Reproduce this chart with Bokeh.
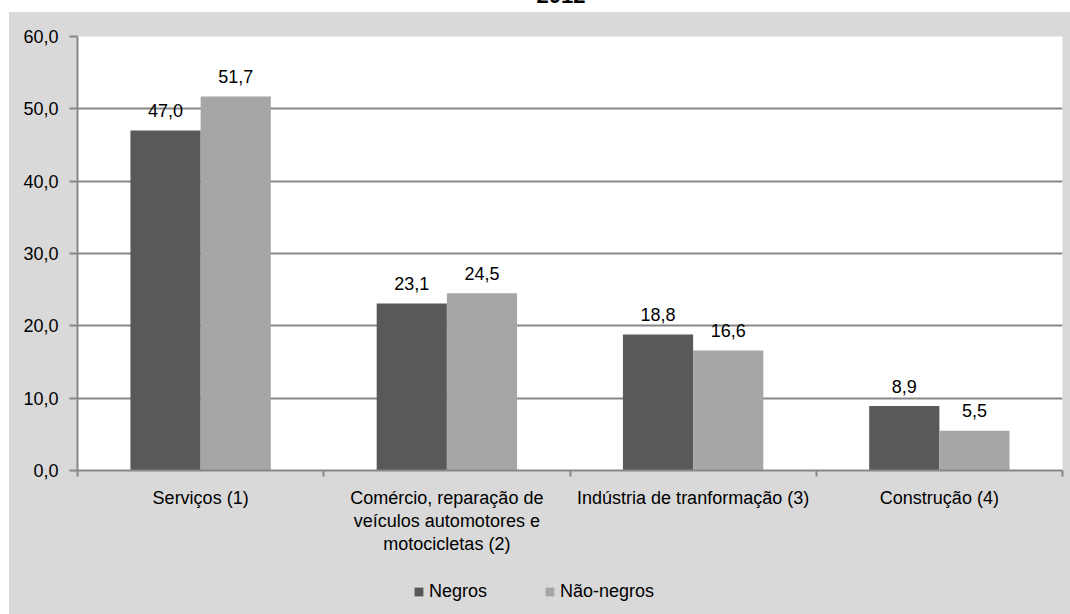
from bokeh.plotting import figure
from bokeh.layouts import column, row
from bokeh.models import (Range1d, FixedTicker, CustomJSTickFormatter, Legend,
                          LegendItem, ColumnDataSource, Div, Spacer)
from bokeh.transform import dodge
from bokeh.embed import file_html
from bokeh.resources import INLINE
from bokeh.core.properties import value

# ---- data ----
title_text = "2012"
categories = [
    "Serviços (1)",
    "Comércio, reparação de\nveículos automotores e\nmotocicletas (2)",
    "Indústria de tranformação (3)",
    "Construção (4)",
]
series_names = ["Negros", "Não-negros"]
negros = [47.0, 23.1, 18.8, 8.9]
nao_negros = [51.7, 24.5, 16.6, 5.5]
y_ticks = [0, 10, 20, 30, 40, 50, 60]

# ---- style ----
FONT = "Liberation Sans"
FS = "18px"
C_NEG = "#595959"
C_NAO = "#a6a6a6"
C_LINE = "#878787"
C_PANEL = "#d9d9d9"

n = len(categories)
fmt = lambda v: f"{v:.1f}".replace(".", ",")
src = ColumnDataSource(dict(
    x=[i + 0.5 for i in range(n)],
    negros=negros,
    nao=nao_negros,
    lab_neg=[fmt(v) for v in negros],
    lab_nao=[fmt(v) for v in nao_negros],
))

p = figure(width=1061, height=558, output_backend="svg", toolbar_location=None,
           x_range=Range1d(0, n), y_range=Range1d(y_ticks[0], y_ticks[-1]),
           min_border_left=68, min_border_right=8, min_border_top=24,
           min_border_bottom=100)
p.border_fill_color = C_PANEL
p.background_fill_color = "white"
p.outline_line_color = None
p.styles = {"background-color": C_PANEL}

W = 0.285
p.vbar(x=dodge("x", -W / 2, range=p.x_range), top="negros", width=W,
       source=src, fill_color=C_NEG, line_color=None)
p.vbar(x=dodge("x", W / 2, range=p.x_range), top="nao", width=W,
       source=src, fill_color=C_NAO, line_color=None)

for col, top, off in (("lab_neg", "negros", -W / 2), ("lab_nao", "nao", W / 2)):
    p.text(x=dodge("x", off, range=p.x_range), y=top, text=col, source=src,
           text_align="center", text_baseline="middle", y_offset=-20,
           text_font=value(FONT), text_font_size=FS, text_color="black")

# grid
p.xgrid.visible = False
p.ygrid.ticker = FixedTicker(ticks=y_ticks)
p.ygrid.grid_line_color = C_LINE
p.ygrid.grid_line_width = 2

# y axis
ya = p.yaxis[0]
ya.ticker = FixedTicker(ticks=y_ticks)
ya.formatter = CustomJSTickFormatter(code="return tick.toFixed(1).replace('.', ',');")
ya.axis_line_color = C_LINE
ya.axis_line_width = 2
ya.major_tick_line_color = C_LINE
ya.major_tick_line_width = 2
ya.major_tick_out = 8
ya.major_tick_in = 0
ya.minor_tick_line_color = None
ya.major_label_standoff = 11
ya.major_label_text_font = FONT
ya.major_label_text_font_size = FS
ya.major_label_text_color = "black"

# x axis
xa = p.xaxis[0]
xa.ticker = FixedTicker(ticks=[i + 0.5 for i in range(n)],
                        minor_ticks=list(range(n + 1)))
xa.formatter = CustomJSTickFormatter(args=dict(labels=categories),
                                     code="return labels[Math.floor(tick)];")
xa.axis_line_color = C_LINE
xa.axis_line_width = 2
xa.major_tick_line_color = None
xa.major_tick_out = 0
xa.major_tick_in = 0
xa.minor_tick_line_color = C_LINE
xa.minor_tick_line_width = 2
xa.minor_tick_out = 6
xa.minor_tick_in = 0
xa.major_label_standoff = 11
xa.major_label_text_font = FONT
xa.major_label_text_font_size = FS
xa.major_label_text_color = "black"
xa.major_label_text_line_height = 1.15

# ---- legend strip (same grey chart area, below) ----
# the series are drawn here out of view; only their legend swatches show
q = figure(width=1061, height=44, output_backend="svg", toolbar_location=None,
           x_range=Range1d(100, 101), y_range=Range1d(100, 101),
           x_axis_location=None, y_axis_location=None,
           min_border_left=0, min_border_right=0, min_border_top=0,
           min_border_bottom=0)
q.border_fill_color = C_PANEL
q.background_fill_color = C_PANEL
q.outline_line_color = None
q.xgrid.visible = False
q.ygrid.visible = False
q.styles = {"background-color": C_PANEL}
l1 = q.vbar(x="x", top="negros", width=W, source=src, fill_color=C_NEG, line_color=None)
l2 = q.vbar(x="x", top="nao", width=W, source=src, fill_color=C_NAO, line_color=None)

legend = Legend(items=[LegendItem(label=series_names[0], renderers=[l1]),
                       LegendItem(label=series_names[1], renderers=[l2])],
                orientation="horizontal", location=(336, 12))
legend.padding = 0
legend.margin = 0
legend.border_line_color = None
legend.background_fill_alpha = 0
legend.glyph_width = 11
legend.glyph_height = 11
legend.label_standoff = 5
legend.spacing = 57
legend.label_text_font = FONT
legend.label_text_font_size = FS
legend.label_text_color = "black"
q.add_layout(legend, "center")

# ---- title: sits above the grey chart area and is mostly cut off there ----
title_div = Div(
    text=('<span style="position:absolute;left:552px;top:-15px;'
          "font-family:'Liberation Sans';font-weight:bold;font-size:22px;"
          'line-height:22px;transform:translateX(-50%);white-space:nowrap;'
          f'color:black">{title_text}</span>'),
    width=1061, height=12, margin=0,
    styles={"position": "relative", "overflow": "hidden",
            "background-color": "white"})

chart = column(title_div, p, q, spacing=0,
               styles={"background-color": C_PANEL})
layout = row(Spacer(width=9, height=614, margin=0,
                    styles={"background-color": "white"}),
             chart, spacing=0, styles={"background-color": C_PANEL})
open("out.html", "w").write(file_html(layout, INLINE))
